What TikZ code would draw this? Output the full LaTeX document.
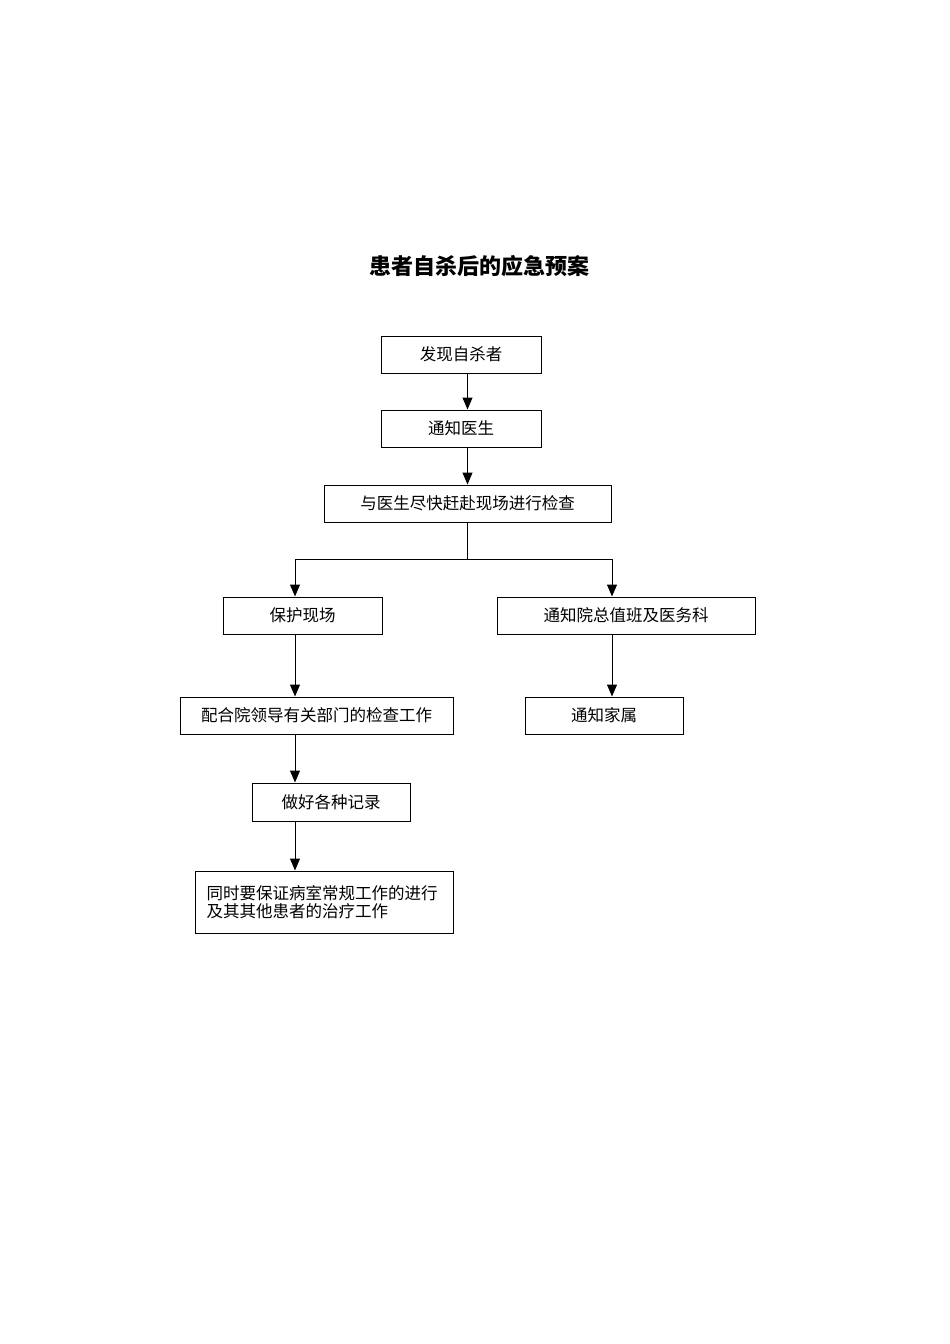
\documentclass[tikz,border=0pt]{standalone}
\usepackage{fontspec}
\newfontfamily\cjk{Noto Sans CJK SC}
\usetikzlibrary{arrows.meta}

\begin{document}
\begin{tikzpicture}[x=1pt,y=-1pt,line width=1pt,
  flowbox/.style={draw,rectangle,font=\cjk\fontsize{16.5}{18}\selectfont,minimum height=37pt,inner sep=0pt},
  flow/.style={-{Triangle[length=12pt,width=10pt]}}]

  \useasboundingbox (0,0) rectangle (950,1344);

  \node[font=\cjk\bfseries\fontsize{22}{26}\selectfont] at (479,266) (title) {患者自杀后的应急预案};

  \node[flowbox,minimum width=160pt] at (461,354.5) (find) {发现自杀者};
  \node[flowbox,minimum width=160pt] at (461,428.5) (notify) {通知医生};
  \node[flowbox,minimum width=287pt] at (467.5,503.5) (scene) {与医生尽快赶赴现场进行检查};
  \node[flowbox,minimum width=159pt] at (302.5,615.5) (protect) {保护现场};
  \node[flowbox,minimum width=258pt] at (626,615.5) (office) {通知院总值班及医务科};
  \node[flowbox,minimum width=273pt] at (316.5,715.5) (cooperate) {配合院领导有关部门的检查工作};
  \node[flowbox,minimum width=158pt] at (604,715.5) (family) {通知家属};
  \node[flowbox,minimum width=158pt,minimum height=38pt] at (331,802) (record) {做好各种记录};
  \node[flowbox,minimum width=258pt,minimum height=62pt,text width=235pt,align=left] at (324,902) (ward) {同时要保证病室常规工作的进行\\及其其他患者的治疗工作};

  \coordinate (split) at (467.5,559);
  \coordinate (lsplit) at (295,559);
  \coordinate (rsplit) at (612,559);

  \path[-]
  (scene) edge (split)
  (lsplit) edge (rsplit);

  \path[flow]
  (find.south -| scene) edge (notify.north -| scene)
  (notify.south -| scene) edge (scene.north)
  (lsplit) edge (protect.north -| lsplit)
  (rsplit) edge (office.north -| rsplit)
  (protect.south -| lsplit) edge (cooperate.north -| lsplit)
  (cooperate.south -| lsplit) edge (record.north -| lsplit)
  (record.south -| lsplit) edge (ward.north -| lsplit)
  (office.south -| rsplit) edge (family.north -| rsplit);
\end{tikzpicture}
\end{document}
